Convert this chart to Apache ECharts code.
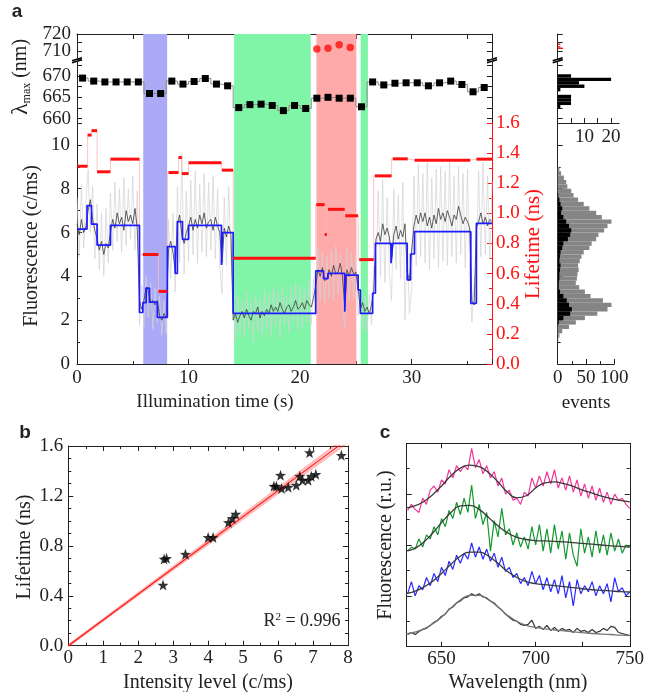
<!DOCTYPE html>
<html><head><meta charset="utf-8">
<script src="https://cdn.jsdelivr.net/npm/echarts@6/dist/echarts.min.js"></script>
<style>html,body{margin:0;padding:0;background:#fff}#c{width:647px;height:692px}</style>
</head><body><div id="c"></div>
<script>
// ---------- panel a : lambda max ----------
const lamTime = [0.5,1.5,2.5,3.5,4.5,5.5,6.5,7.5,8.5,9.5,10.5,11.5,12.5,13.5,14.5,15.5,16.5,17.5,18.5,19.5,20.5,21.5,22.5,23.5,24.5,25.5,26.5,27.5,28.5,29.5,30.5,31.5,32.5,33.5,34.5,35.5,36.5];
const lamValues = [669.5,668.8,668.6,668.6,668.6,668.6,665.9,665.9,668.8,668.1,668.7,669.4,668.1,667.7,662.6,663.3,663.4,663.1,661.9,663.1,662.4,664.8,665.0,664.8,664.8,662.8,668.6,667.9,668.3,668.4,668.4,667.7,668.4,668.8,668.0,666.3,667.3];
const redDotTime = [21.5,22.5,23.5,24.5];
const redDotLam = [711.2,711.6,713.7,712.1];
// shaded regions
const shadeStart = [5.94,14.08,21.46,25.43];
const shadeEnd = [8.08,20.95,25.04,26.08];
const shadeColor = ['#aaaaf7','#80f5a8','#ffaaaa','#80f5a8'];
// fluorescence trace (sampled every 0.2 s from 0 s)
const traceStep = 0.2;
const traceDark = [6.4,5.9,6.6,6.0,6.3, 7.0,7.5,6.6,6.1,5.7, 5.2,5.6,5.0,5.5,5.3, 6.0,6.6,6.2,6.9,6.4, 6.7,6.1,7.0,6.5,6.8,
 6.4,7.1,6.2,2.9,2.5, 2.9,3.5,3.3,2.8,2.9, 2.7,2.9,2.2,2.0,2.3, 2.1,5.2,5.6,5.1,4.3, 6.4,6.8,5.9,5.5,6.0,
 6.3,6.7,6.1,6.6,6.2, 6.8,6.4,6.9,6.2,6.5, 6.6,6.1,6.7,6.3,6.0, 4.6,6.2,5.8,6.3,5.9, 2.0,2.3,1.9,2.2,2.4,
 2.1,2.5,2.2,2.0,2.4, 2.3,2.6,2.1,2.4,2.2, 2.5,2.3,2.7,2.4,2.6, 2.4,2.8,2.5,2.3,2.6, 2.7,2.4,2.6,2.9,2.5,
 2.6,2.8,2.5,2.9,2.7, 2.6,3.0,3.6,4.3,4.0, 4.4,3.8,3.9,4.3,4.0, 4.5,4.1,4.2,4.6,4.0, 2.6,4.3,4.0,4.4,4.1,
 4.2,3.4,2.5,2.8,2.4, 2.6,2.3,2.7,3.4,5.7, 6.0,5.6,6.4,5.9,6.2, 5.8,4.8,5.9,6.3,5.7, 6.1,5.8,6.4,4.2,3.8,
 5.2,6.3,6.8,6.4,6.9, 6.5,6.9,6.3,6.7,6.2, 6.8,6.4,7.1,6.6,6.9, 6.5,7.0,6.7,6.3,6.8, 6.6,7.2,6.8,6.4,6.7,
 6.5,6.2,2.9,2.7,6.2, 6.5,6.9,6.4,6.7,6.3, 6.6,6.5];
const traceLight = [7.6,4.9,8.2,5.3,7.4, 8.9,6.0,8.1,4.8,7.3, 4.3,6.9,4.0,7.1,4.6, 7.8,5.2,8.3,5.6,8.0, 5.1,8.5,5.4,8.0,5.7,
 8.6,5.2,7.9,1.8,3.6, 1.7,4.0,2.1,3.7,1.6, 3.5,1.9,3.1,1.3,2.9, 1.4,6.6,3.9,6.9,3.3, 8.1,4.6,9.6,4.1,7.9,
 4.7,8.4,5.0,8.8,4.6, 8.2,5.1,8.7,4.9,8.3, 5.2,8.6,4.8,8.0,4.4, 3.2,7.6,4.5,8.1,4.7, 3.0,1.1,3.1,1.4,2.9,
 1.2,3.3,1.6,2.9,1.0, 3.2,1.5,3.0,1.2,3.4, 1.6,3.2,1.3,3.5,1.7, 3.3,1.2,3.6,1.8,3.1, 1.4,3.5,1.9,3.7,1.5,
 3.6,1.7,3.4,1.9,3.8, 1.8,3.9,2.2,5.3,2.9, 5.1,2.7,4.9,3.0,5.2, 2.9,5.4,3.2,5.0,2.8, 1.6,5.3,2.9,5.1,3.0,
 5.0,2.2,3.3,1.6,3.1, 1.5,3.2,1.8,4.5,3.6, 7.9,4.0,8.4,3.7,7.6, 4.2,2.9,8.0,4.3,7.7, 3.9,8.3,2.0,5.4,2.3,
 3.5,8.6,4.5,9.1,4.9, 8.7,4.6,9.2,4.3,8.5, 4.8,8.9,4.4,9.0,4.7, 8.8,4.5,9.3,4.9,8.6, 4.6,9.0,5.0,8.7,4.4,
 8.9,4.1,1.9,3.8,4.3, 8.8,4.9,9.2,5.0,8.6, 4.8,8.3];
// intensity levels (blue step)
const blueEdges = [0,0.9,1.3,1.8,3.0,5.6,5.9,6.2,6.5,7.2,8.1,8.8,9.0,9.45,10.0,12.95,13.05,14.0,21.4,22.1,22.5,24.0,24.1,25.2,25.4,26.5,26.75,28.15,28.3,29.6,29.9,30.25,35.3,35.8,37.2];
const blueLevels = [6.16,7.23,6.38,5.43,6.33,2.35,2.8,3.46,2.82,2.13,5.36,4.14,6.5,5.69,6.33,4.52,6.0,2.31,4.25,3.9,4.14,2.39,4.06,3.38,2.31,3.23,5.51,4.6,5.51,3.84,5.02,6.04,2.77,6.42];
// lifetime levels (red)
const lifeStart = [0.05,0.95,1.3,1.8,3.0,5.9,7.3,8.2,9.1,9.4,10.0,13.0,14.0,21.45,22.2,22.5,24.05,25.3,26.7,28.3,30.26,35.8];
const lifeEnd = [0.95,1.3,1.8,3.0,5.6,7.3,8.1,9.1,9.4,10.0,12.95,14.0,21.4,22.2,22.4,24.0,25.2,26.6,28.2,29.65,35.25,37.2];
const lifeValue = [1.313,1.52,1.549,1.276,1.36,0.727,0.482,1.271,1.371,1.264,1.336,1.287,0.702,1.058,0.86,1.027,0.984,0.693,1.249,1.362,1.353,1.36];
// histograms
const lamHistLo = [669.6,668.8,668.0,667.2,666.4,664.8,664.0,663.2,662.4];
const lamHistCount = [5,20,8,10,1,5,5,5,1];
const lamHistBin = 0.8;
const redHistLo = [713.6,712.0,711.2];
const redHistCount = [1,1,2];
const grayHistLo = [1.0,1.2,1.4,1.6,1.8,2.0,2.2,2.4,2.6,2.8,3.0,3.2,3.4,3.6,3.8,4.0,4.2,4.4,4.6,4.8,5.0,5.2,5.4,5.6,5.8,6.0,6.2,6.4,6.6,6.8,7.0,7.2,7.4,7.6,7.8,8.0,8.2,8.4,8.6,8.8];
const grayHistCount = [1,3,8,20,32,48,70,88,95,80,58,48,38,32,34,35,37,36,39,42,46,56,60,68,72,82,88,95,78,68,56,46,36,28,24,17,15,11,6,3];
const blackHistLo = [1.8,2.0,2.2,2.4,2.6,2.8,3.0,3.2,3.4,3.6,3.8,4.0,4.2,4.4,4.6,4.8,5.0,5.2,5.4,5.6,5.8,6.0,6.2,6.4,6.6,6.8,7.0,7.2,7.4,7.6];
const blackHistCount = [2,10,22,25,20,16,10,4,2,2,3,3,4,5,3,4,5,8,10,18,22,24,20,15,10,6,8,5,3,1];
const intHistBin = 0.2;
// ---------- panel b ----------
const starX = [2.71,2.74,2.81,3.35,4.0,4.14,4.58,4.69,4.79,5.88,5.95,6.07,6.1,6.29,6.52,6.62,6.7,6.86,6.95,7.08,6.9,7.81];
const starY = [0.486,0.694,0.70,0.733,0.867,0.867,0.987,1.02,1.054,1.278,1.278,1.366,1.26,1.27,1.286,1.358,1.326,1.326,1.358,1.373,1.547,1.525];
const fitX = [0,8];
const fitY = [0,1.656];
const fitHi = [0,1.68];
const fitLo = [0,1.632];
// ---------- panel c ----------
const wlStart = 632, wlStep = 2;
const specPink = [6.7,7.0,6.75,6.6,7.3,7.0,7.7,7.9,7.6,8.2, 8.0,8.7,8.3,8.9,8.6,8.9,8.7,9.75,8.8,9.2, 8.5,8.9,8.3,8.6,7.9,8.3,7.5,7.7,7.2,7.3, 7.0,7.6,7.4,8.3,7.8,8.4,7.9,8.6,8.0,8.7, 7.8,8.3,7.7,8.4,7.6,8.2,7.4,8.0,7.3,7.9, 7.2,7.8,7.1,7.6,7.0,7.5,7.2,7.3,7.0,6.8];
const specGreen = [4.7,4.9,4.8,5.3,4.9,5.5,5.3,5.9,5.5,6.3, 5.9,6.7,6.3,7.1,6.5,7.3,6.6,7.95,6.3,7.0, 6.0,6.6,4.7,6.2,5.4,6.8,5.5,5.8,5.0,5.6, 4.9,5.4,4.8,5.9,5.0,6.0,4.7,5.8,4.6,6.0, 4.8,5.7,4.3,5.6,4.5,3.95,5.8,4.6,5.4,4.4, 5.7,4.6,5.5,4.5,5.6,4.7,5.3,4.6,5.0,4.9];
const specBlue = [2.6,3.2,2.5,3.0,2.8,3.4,3.0,3.6,3.2,3.9, 3.5,4.2,3.8,4.5,4.1,4.6,4.3,5.1,4.4,4.9, 4.3,4.8,4.2,4.6,3.9,4.4,3.7,3.9,3.4,3.6, 3.1,3.4,3.0,3.7,3.1,3.5,2.8,3.4,2.7,3.3, 2.6,3.5,2.4,3.2,2.0,3.3,2.6,3.0,2.7,3.2, 2.5,3.0,2.6,3.1,2.2,3.4,2.7,2.9,2.5,2.7];
const specBlack = [0.6,0.7,0.6,0.75,0.85,0.9,1.05,1.2,1.3,1.5, 1.6,1.85,1.95,2.15,2.25,2.4,2.45,2.6,2.5,2.6, 2.45,2.4,2.25,2.15,1.95,1.8,1.6,1.45,1.3,1.25, 1.1,1.05,1.1,1.3,0.9,1.0,0.85,1.05,0.8,0.95, 0.75,0.9,0.8,0.85,0.7,0.9,0.75,0.8,0.7,0.85, 0.7,0.75,0.9,0.8,1.0,0.95,0.7,0.65,0.6,0.55];
const fitWlStart = 630, fitWlStep = 5;
const fitPink = [6.82,6.9,7.1,7.45,7.9,8.4,8.78,8.93,8.85,8.55,8.1,7.6,7.32,7.42,7.8,8.05,8.1,8.02,7.88,7.7,7.55,7.4,7.28,7.19,7.12];
const fitGreen = [4.7,4.8,5.1,5.55,6.1,6.6,6.92,6.95,6.75,6.35,5.95,5.6,5.38,5.27,5.22,5.2,5.18,5.15,5.12,5.08,5.04,5.0,4.96,4.93,4.9];
const fitBlue = [2.6,2.7,2.9,3.2,3.6,4.05,4.45,4.65,4.65,4.45,4.1,3.7,3.4,3.2,3.1,3.05,3.0,2.95,2.9,2.85,2.8,2.77,2.74,2.71,2.69];
const fitBlack = [0.62,0.7,0.85,1.1,1.45,1.9,2.3,2.52,2.52,2.3,1.95,1.55,1.25,1.05,0.95,0.88,0.82,0.78,0.73,0.69,0.65,0.62,0.6,0.57,0.55];

// ---------- build ----------
const F = 'Liberation Serif';
const K = '#222';
const RED = '#ff1010';
const lab = o => Object.assign({show:true,fontFamily:F,fontSize:19,color:K}, o);
function ax(o){
  return Object.assign({type:'value', splitLine:{show:false},
    axisLine:{show:true,onZero:false,lineStyle:{color:K,width:1}},
    axisTick:{show:true,inside:true,length:5,lineStyle:{color:K}},
    minorTick:{show:false}, axisLabel:{show:false}}, o);
}
const minor = (n)=>({show:true,splitNumber:n,length:3,lineStyle:{color:K}});
const tickC = (vals)=>({show:true,inside:true,length:5,lineStyle:{color:K},customValues:vals});
const lamTicks = [660,662.5,665,667.5,670,672.5];
const wlTicks = [650,675,700,725,750];

const xAxis = [
  ax({gridIndex:0,min:0,max:37.2,show:false}),
  ax({gridIndex:1,min:0,max:37.2,position:'top',interval:5}),
  ax({gridIndex:2,min:0,max:37.2,show:false}),
  ax({gridIndex:3,min:0,max:37.2,interval:10,minorTick:minor(2),axisLabel:lab({margin:5,showMaxLabel:false,formatter:v=>v%10===0?String(v):''})}),
  ax({gridIndex:4,min:0,max:23,show:false}),
  ax({gridIndex:5,min:0,max:23,interval:5,axisLabel:lab({margin:5,showMaxLabel:false,formatter:v=>(v===10||v===20)?String(v):''})}),
  ax({gridIndex:6,min:0,max:100,interval:50,minorTick:minor(2),axisLabel:lab({margin:5})}),
  ax({gridIndex:7,min:0,max:8,interval:1,minorTick:minor(2),axisLabel:lab({margin:3})}),
  ax({gridIndex:7,min:0,max:8,interval:1,position:'top',minorTick:minor(2)}),
  ax({gridIndex:8,min:631.5,max:750,axisTick:tickC(wlTicks),axisLabel:lab({margin:3,customValues:[650,700,750]})}),
  ax({gridIndex:8,min:631.5,max:750,position:'top',axisTick:tickC(wlTicks)})
];
const yAxis = [
  ax({gridIndex:0,min:0,max:1,show:false}),
  ax({gridIndex:1,min:705,max:720,interval:5,axisLabel:lab({margin:6,formatter:v=>v%10===0?String(v):''})}),
  ax({gridIndex:1,min:705,max:720,interval:5,position:'right'}),
  ax({gridIndex:2,min:659,max:673.5,axisTick:tickC(lamTicks),axisLabel:lab({margin:6,customValues:[660,665,670]})}),
  ax({gridIndex:2,min:659,max:673.5,position:'right',axisTick:tickC(lamTicks)}),
  ax({gridIndex:3,min:0,max:11,interval:2,minorTick:minor(2),axisLabel:lab({margin:7,showMaxLabel:false,formatter:v=>v%2===0?String(v):''})}),
  ax({gridIndex:3,min:0,max:1.6,interval:0.2,position:'right',
     axisLine:{show:true,onZero:false,lineStyle:{color:RED,width:1}},
     axisTick:{show:true,inside:true,length:5,lineStyle:{color:RED}},
     minorTick:{show:true,splitNumber:2,length:3,lineStyle:{color:RED}},
     axisLabel:lab({margin:4,color:RED,formatter:v=>v.toFixed(1)})}),
  ax({gridIndex:4,min:705,max:720,interval:5}),
  ax({gridIndex:5,min:659,max:673.5,axisTick:tickC(lamTicks)}),
  ax({gridIndex:6,min:0,max:11,interval:2,minorTick:minor(2)}),
  ax({gridIndex:7,min:0,max:1.6,interval:0.4,minorTick:minor(4),axisLabel:lab({margin:5,formatter:v=>v.toFixed(1)})}),
  ax({gridIndex:7,min:0,max:1.6,interval:0.4,position:'right',minorTick:minor(4)}),
  ax({gridIndex:8,min:0,max:10,interval:2.5,minorTick:minor(2)}),
  ax({gridIndex:8,min:0,max:10,interval:2.5,position:'right',minorTick:minor(2)})
];
const grid = [
  {left:77,top:34,width:415,height:330},
  {left:77,top:34,width:415,height:25.5},
  {left:77,top:61,width:415,height:62},
  {left:77,top:123,width:415,height:241},
  {left:557.7,top:34,width:61.4,height:25.5},
  {left:557.7,top:61,width:61.4,height:62},
  {left:557.7,top:123,width:56.6,height:241},
  {left:68.3,top:446,width:279.7,height:199.7},
  {left:406.7,top:443.3,width:224.3,height:203.4}
];

// derived series data
const darkData = traceDark.map((v,i)=>[+(i*traceStep).toFixed(2),v]);
const lightData = traceLight.map((v,i)=>[+(i*traceStep).toFixed(2),v]);
const blueData = [];
blueLevels.forEach((v,i)=>{blueData.push([blueEdges[i],v]);blueData.push([blueEdges[i+1],v]);});
const lifeSeg = lifeValue.map((v,i)=>[lifeStart[i],lifeEnd[i],v]);
const lifeConn = [];
lifeValue.forEach((v,i)=>{lifeConn.push([lifeStart[i],v]);lifeConn.push([lifeEnd[i],v]);
  if(i<lifeValue.length-1) lifeConn.push([lifeEnd[i],lifeValue[i+1]]);});
const hist = (lo,cnt,bin)=>lo.map((l,i)=>[l,l+bin,cnt[i]]);

function segRender(params, api){
  const a = api.coord([api.value(0),api.value(2)]);
  const b = api.coord([api.value(1),api.value(2)]);
  return {type:'line',shape:{x1:a[0],y1:a[1],x2:b[0],y2:b[1]},style:{stroke:RED,lineWidth:3}};
}
function histRender(color){
  return function(params, api){
    const p0 = api.coord([0,api.value(1)]);
    const p1 = api.coord([api.value(2),api.value(0)]);
    return {type:'rect',shape:{x:p0[0],y:p0[1],width:p1[0]-p0[0],height:p1[1]-p0[1]},style:{fill:color}};
  };
}
const starPath = 'path://M0,-10 L2.35,-3.24 L9.51,-3.09 L3.8,1.24 L5.88,8.09 L0,4 L-5.88,8.09 L-3.8,1.24 L-9.51,-3.09 L-2.35,-3.24 Z';
const wl = arr => arr.map((v,i)=>[wlStart+i*wlStep,v]);
const fw = arr => arr.map((v,i)=>[fitWlStart+i*fitWlStep,v]);
const specLine = (data,color,w,smooth,z)=>({type:'line',xAxisIndex:9,yAxisIndex:12,data,symbol:'none',smooth:smooth,
  lineStyle:{color,width:w},z:z,silent:true,animation:false});

const series = [
  {type:'line',xAxisIndex:0,yAxisIndex:0,data:[[0,0],[37.2,0]],symbol:'none',lineStyle:{opacity:0},z:0,silent:true,
   markArea:{silent:true,data:shadeStart.map((s,i)=>[{xAxis:s,itemStyle:{color:shadeColor[i],opacity:1}},{xAxis:shadeEnd[i]}])}},
  {type:'line',xAxisIndex:2,yAxisIndex:3,step:'middle',data:lamTime.map((t,i)=>[t,lamValues[i]]),symbol:'rect',symbolSize:7,
   itemStyle:{color:'#000'},lineStyle:{color:'#8a8a8a',width:1}},
  {type:'scatter',xAxisIndex:1,yAxisIndex:1,data:redDotTime.map((t,i)=>[t,redDotLam[i]]),symbol:'circle',symbolSize:7.5,itemStyle:{color:RED}},
  {type:'line',xAxisIndex:3,yAxisIndex:5,data:lightData,symbol:'none',z:1,lineStyle:{color:'#d2d2d2',width:0.7}},
  {type:'line',xAxisIndex:3,yAxisIndex:5,data:darkData,symbol:'none',z:1,lineStyle:{color:'#3a3a3a',width:0.8}},
  {type:'line',xAxisIndex:3,yAxisIndex:6,data:lifeConn,symbol:'none',z:1,lineStyle:{color:'#ffb8b8',width:0.8}},
  {type:'line',xAxisIndex:3,yAxisIndex:5,data:blueData,symbol:'none',z:3,lineStyle:{color:'#1c1cff',width:1.7}},
  {type:'custom',xAxisIndex:3,yAxisIndex:6,data:lifeSeg,renderItem:segRender,encode:{x:[0,1],y:2},z:4},
  {type:'custom',xAxisIndex:5,yAxisIndex:8,data:hist(lamHistLo,lamHistCount,lamHistBin),renderItem:histRender('#000'),encode:{x:2,y:[0,1]}},
  {type:'custom',xAxisIndex:4,yAxisIndex:7,data:hist(redHistLo,redHistCount,lamHistBin),renderItem:histRender(RED),encode:{x:2,y:[0,1]}},
  {type:'custom',xAxisIndex:6,yAxisIndex:9,data:hist(grayHistLo,grayHistCount,intHistBin),renderItem:histRender('#858585'),encode:{x:2,y:[0,1]},z:2},
  {type:'custom',xAxisIndex:6,yAxisIndex:9,data:hist(blackHistLo,blackHistCount,intHistBin),renderItem:histRender('#000'),encode:{x:2,y:[0,1]},z:3},
  {type:'line',xAxisIndex:7,yAxisIndex:10,data:fitX.map((x,i)=>[x,fitHi[i]]),symbol:'none',lineStyle:{color:'rgba(255,60,60,0.35)',width:2.5}},
  {type:'line',xAxisIndex:7,yAxisIndex:10,data:fitX.map((x,i)=>[x,fitLo[i]]),symbol:'none',lineStyle:{color:'rgba(255,60,60,0.35)',width:2.5}},
  {type:'line',xAxisIndex:7,yAxisIndex:10,data:fitX.map((x,i)=>[x,fitY[i]]),symbol:'none',lineStyle:{color:'#ff2020',width:1.2}},
  {type:'scatter',xAxisIndex:7,yAxisIndex:10,data:starX.map((x,i)=>[x,starY[i]]),symbol:starPath,symbolSize:11,itemStyle:{color:'#000'},z:5},
  specLine(wl(specPink),'#f0389a',1.2,false,2),
  specLine(wl(specGreen),'#15982f',1.2,false,2),
  specLine(wl(specBlue),'#2a2aff',1.2,false,2),
  specLine(wl(specBlack),'#333',1.2,false,2),
  specLine(fw(fitPink),'#3a3a3a',1.3,true,3),
  specLine(fw(fitGreen),'#3a3a3a',1.3,true,3),
  specLine(fw(fitBlue),'#3a3a3a',1.3,true,3),
  specLine(fw(fitBlack),'#777',1.3,true,3)
];

const T = (x,y,text,o)=>({type:'text',x,y,rotation:(o&&o.rot)||0,z:50,
  style:Object.assign({text,font:'19px "Liberation Serif"',fill:K,align:'center',verticalAlign:'middle'},(o&&o.style)||{})});
const brk = (x,y)=>({type:'group',z:60,children:[
  {type:'line',shape:{x1:x-5,y1:y+2.5,x2:x+5,y2:y-0.5},style:{stroke:'#000',lineWidth:1.6}},
  {type:'line',shape:{x1:x-5,y1:y+0.5,x2:x+5,y2:y-2.5},style:{stroke:'#000',lineWidth:1.6}}]});
const R90 = Math.PI/2;
const graphic = [
  T(17,12,'a',{style:{font:'bold 19px "Liberation Sans"'}}),
  T(25,433,'b',{style:{font:'bold 19px "Liberation Sans"'}}),
  T(385,433,'c',{style:{font:'bold 19px "Liberation Sans"'}}),
  {type:'text',x:21,y:77,rotation:R90,z:50,style:{text:'{l|λ}{s|max}{n| (nm)}',align:'center',verticalAlign:'middle',fill:K,
    rich:{l:{fontFamily:F,fontSize:24,fill:K},s:{fontFamily:F,fontSize:12,fill:K,verticalAlign:'bottom',padding:[9,0,0,0]},n:{fontFamily:F,fontSize:20,fill:K}}}},
  T(32,246,'Fluorescence (c/ms)',{rot:R90,style:{font:'20px "Liberation Serif"'}}),
  T(533,244,'Lifetime (ns)',{rot:R90,style:{font:'21px "Liberation Serif"',fill:RED}}),
  T(215,402,'Illumination time (s)'),
  T(586,403,'events'),
  T(25,547,'Lifetime (ns)',{rot:R90,style:{font:'20px "Liberation Serif"'}}),
  T(208,683,'Intensity level (c/ms)',{style:{font:'20px "Liberation Serif"'}}),
  {type:'text',x:302,y:621,z:50,style:{text:'{n|R}{p|2}{n| = 0.996}',align:'center',verticalAlign:'middle',fill:K,
    rich:{n:{fontFamily:F,fontSize:18,fill:K},p:{fontFamily:F,fontSize:11,fill:K,verticalAlign:'top',padding:[0,0,8,0]}}}},
  T(386,545,'Fluorescence (r.u.)',{rot:R90,style:{font:'20px "Liberation Serif"'}}),
  T(518,683,'Wavelength (nm)',{style:{font:'20px "Liberation Serif"'}}),
  brk(77,60.3), brk(492,60.3), brk(557.7,60.3)
];

const chart = echarts.init(document.getElementById('c'));
chart.setOption({animation:false,backgroundColor:'#fff',grid,xAxis,yAxis,series,graphic});
</script></body></html>
